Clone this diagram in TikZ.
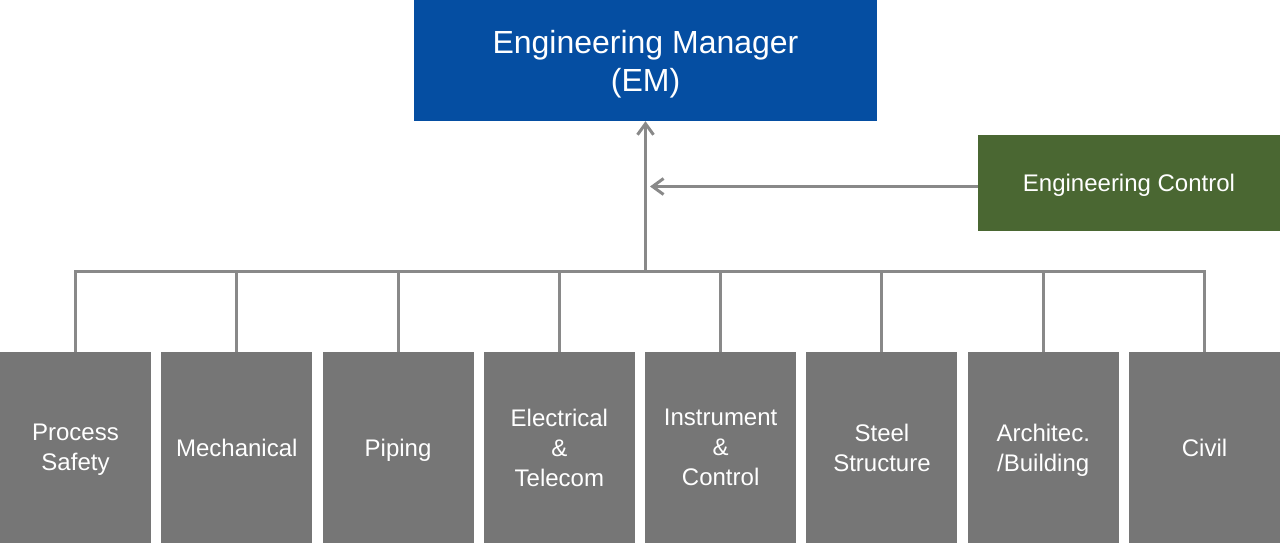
\documentclass[tikz,border=0pt]{standalone}
\usepackage{fontspec}
\setmainfont{Liberation Sans}
\usetikzlibrary{math,arrows.meta}
\definecolor{emblue}{RGB}{5,78,162}
\definecolor{ecgreen}{RGB}{74,103,50}
\definecolor{unitgray}{RGB}{118,118,118}
\definecolor{linegray}{RGB}{137,137,137}

\begin{document}
\begin{tikzpicture}[x=1pt,y=-1pt,
    box/.style={fill=#1, text=white, inner sep=0pt, align=center, text depth=0pt},
    unit/.style={box=unitgray, minimum width=151pt, minimum height=191pt, font=\fontsize{24}{30}\selectfont},
    link/.style={draw=linegray, line width=3pt},
    up/.style={link, -{Straight Barb[length=11pt,width=16pt]}}]
      \tikzmath{\pagew = 1280; \pageh = 543; \pitch = 161.29;}
      \useasboundingbox (0,0) rectangle (\pagew,\pageh);
      \node[box=emblue, minimum width=463pt, minimum height=121pt, font=\fontsize{32}{38}\selectfont] (em) at (645.5,60.5) {Engineering Manager\\(EM)};
      \node[box=ecgreen, minimum width=302pt, minimum height=96pt, font=\fontsize{24}{30}\selectfont] (ec) at (1129,183) {Engineering Control};
      \coordinate (hub) at (645.5,271);
      \coordinate (meet) at (650,186.5);
      \foreach \name [count=\i from 0] in {Process\\Safety, Mechanical, Piping, Electrical\\\&\\Telecom, Instrument\\\&\\Control, Steel\\Structure, Architec.\\/Building, Civil}
      {
        \node[unit] (u\i) at (75.5 + \i*\pitch, 447.5) {\name};
        \draw[link] (u\i.north) |- (hub);
      }
      \draw[up] (hub) -- (em.south);
      \draw[up] (ec.west |- meet) -- (meet);
    \end{tikzpicture}
\end{document}
